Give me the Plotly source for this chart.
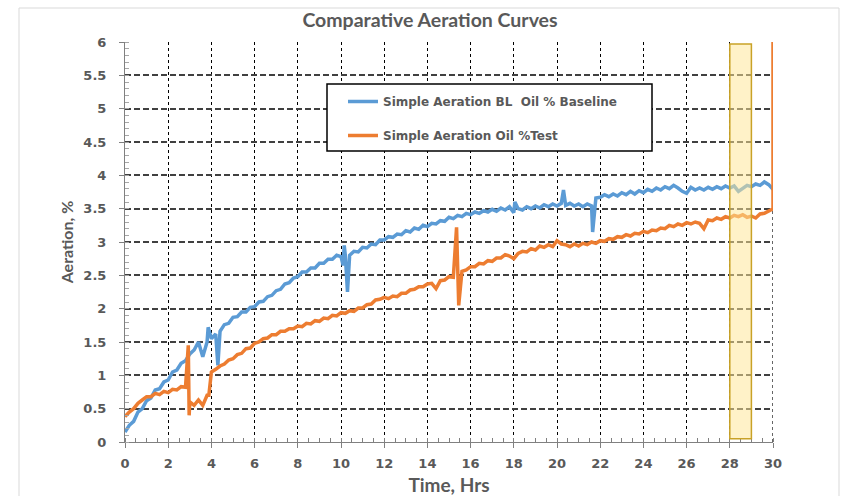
import plotly.graph_objects as go

# ---------------- data ----------------
# readings every 0.2 h (hand-read, including the visible scatter of the trace)
sample_times = [round(i * 0.2, 1) for i in range(151)]

baseline_v = [0.15, 0.25, 0.31, 0.45, 0.50, 0.62, 0.66, 0.78, 0.80, 0.90,
              0.93, 1.05, 1.08, 1.18, 1.22, 1.32, 1.38, 1.50, 1.28, 1.50,
              1.55, 1.62, 1.66, 1.76, 1.78, 1.87, 1.88, 1.95, 1.95, 2.02,
              2.03, 2.10, 2.11, 2.18, 2.20, 2.27, 2.29, 2.37, 2.39, 2.46,
              2.48, 2.55, 2.55, 2.61, 2.61, 2.68, 2.68, 2.74, 2.74, 2.80,
              2.78, 2.80, 2.80, 2.86, 2.85, 2.92, 2.91, 2.97, 2.96, 3.03,
              3.03, 3.08, 3.07, 3.12, 3.11, 3.17, 3.15, 3.21, 3.19, 3.25,
              3.23, 3.28, 3.27, 3.32, 3.31, 3.37, 3.35, 3.40, 3.38, 3.43,
              3.41, 3.45, 3.43, 3.47, 3.45, 3.49, 3.46, 3.51, 3.48, 3.53,
              3.44, 3.50, 3.48, 3.53, 3.50, 3.54, 3.51, 3.56, 3.53, 3.57,
              3.54, 3.58, 3.55, 3.58, 3.54, 3.57, 3.53, 3.57, 3.54, 3.66,
              3.67, 3.71, 3.68, 3.72, 3.69, 3.74, 3.71, 3.76, 3.72, 3.77,
              3.74, 3.79, 3.76, 3.81, 3.78, 3.83, 3.80, 3.85, 3.81, 3.76,
              3.73, 3.82, 3.78, 3.81, 3.78, 3.82, 3.79, 3.83, 3.80, 3.84,
              3.81, 3.84, 3.76, 3.80, 3.85, 3.83, 3.87, 3.85, 3.90, 3.86,
              3.79]
baseline_spike_t = [3.85, 4.3, 10.1, 10.15, 10.3, 18.05, 20.3, 21.65]
baseline_spike_v = [1.72, 1.15, 2.65, 2.95, 2.25, 3.60, 3.78, 3.15]

test_v = [0.38, 0.45, 0.50, 0.58, 0.63, 0.68, 0.68, 0.73, 0.71, 0.76,
          0.74, 0.79, 0.78, 0.83, 0.82, 0.60, 0.55, 0.63, 0.55, 0.70,
          1.05, 1.09, 1.14, 1.17, 1.23, 1.25, 1.31, 1.33, 1.40, 1.41,
          1.48, 1.50, 1.55, 1.56, 1.61, 1.61, 1.66, 1.66, 1.70, 1.70,
          1.74, 1.73, 1.78, 1.77, 1.82, 1.81, 1.86, 1.85, 1.90, 1.89,
          1.94, 1.93, 1.97, 1.96, 2.01, 2.01, 2.06, 2.07, 2.13, 2.14,
          2.17, 2.15, 2.19, 2.18, 2.23, 2.23, 2.28, 2.29, 2.33, 2.33,
          2.37, 2.38, 2.30, 2.42, 2.43, 2.48, 2.47, 2.50, 2.56, 2.58,
          2.63, 2.63, 2.68, 2.67, 2.72, 2.71, 2.76, 2.76, 2.81, 2.79,
          2.75, 2.83, 2.86, 2.85, 2.90, 2.88, 2.94, 2.92, 2.96, 2.93,
          3.02, 2.97, 2.96, 2.93, 2.97, 2.94, 2.98, 2.96, 3.00, 2.98,
          3.02, 3.01, 3.05, 3.04, 3.08, 3.07, 3.11, 3.09, 3.13, 3.12,
          3.16, 3.14, 3.18, 3.17, 3.21, 3.20, 3.25, 3.23, 3.27, 3.25,
          3.29, 3.27, 3.30, 3.28, 3.20, 3.33, 3.32, 3.36, 3.34, 3.38,
          3.36, 3.40, 3.38, 3.41, 3.37, 3.39, 3.36, 3.42, 3.43, 3.47,
          3.50]
test_spike_t = [2.93, 2.97, 3.88, 15.35, 15.45, 30.0]
test_spike_v = [1.45, 0.40, 0.70, 3.22, 2.05, 6.00]

series_names = ["Simple Aeration BL  Oil % Baseline", "Simple Aeration Oil %Test"]
series_colors = ["#5B9BD5", "#ED7D31"]

x_ticks = list(range(0, 31, 2))
y_ticks = [0, 0.5, 1, 1.5, 2, 2.5, 3, 3.5, 4, 4.5, 5, 5.5, 6]
y_tick_text = ["0", "0.5", "1", "1.5", "2", "2.5", "3", "3.5", "4", "4.5", "5", "5.5", "6"]

highlight_x = [28, 29]
highlight_y = [0.05, 5.97]


def merge(ts, vs, st, sv):
    pts = list(zip(ts, vs)) + list(zip(st, sv))
    pts.sort(key=lambda p: p[0])  # stable: regular reading before spike at same time
    return [p[0] for p in pts], [p[1] for p in pts]


# ---------------- figure ----------------
W, H = 842, 496
L, R, T, B = 125, 69, 42, 54
pw, ph = W - L - R, H - T - B


def px_x(p):
    return (p - L) / pw


def px_y(p):
    return (H - B - p) / ph


TXT = "#595959"
TICKFONT = dict(family="DejaVu Sans, Verdana, sans-serif", size=13, color=TXT, weight="bold")

fig = go.Figure()
for i, (vv, st, sv) in enumerate([(baseline_v, baseline_spike_t, baseline_spike_v),
                                  (test_v, test_spike_t, test_spike_v)]):
    xx, yy = merge(sample_times, vv, st, sv)
    fig.add_trace(go.Scatter(
        x=xx, y=yy, mode="lines", name=series_names[i],
        line=dict(color=series_colors[i], width=3.5),
        legendgroup=f"g{i}",
    ))

shapes = [
    # outer chart border
    dict(type="rect", xref="paper", yref="paper", x0=px_x(19), x1=px_x(839),
         y0=px_y(520), y1=px_y(8), line=dict(color="#D9D9D9", width=1),
         fillcolor="rgba(0,0,0,0)", layer="below"),
    # right-hand dashed gridline at x = 30
    dict(type="line", xref="x", yref="y", x0=30, x1=30, y0=0, y1=6,
         line=dict(color="#000000", width=1.2, dash="3px,3px"), layer="below"),
    # legend box
    dict(type="rect", xref="paper", yref="paper", x0=px_x(327), x1=px_x(652),
         y0=px_y(151), y1=px_y(84), line=dict(color="#000000", width=1.5),
         fillcolor="#FFFFFF", layer="above"),
    # highlight band
    dict(type="rect", xref="x", yref="y", x0=highlight_x[0], x1=highlight_x[1],
         y0=highlight_y[0], y1=highlight_y[1],
         line=dict(color="#C9A227", width=1.5),
         fillcolor="rgba(255,230,150,0.52)", layer="above"),
]

fig.update_layout(
    width=W, height=H,
    margin=dict(l=L, r=R, t=T, b=B),
    paper_bgcolor="white", plot_bgcolor="white",
    title=dict(text="<b>Comparative Aeration Curves</b>", xref="paper", x=(430 - L) / pw,
               xanchor="center", yref="container", y=1 - 20 / H, yanchor="middle",
               font=dict(family="Lato, sans-serif", size=19.5, color=TXT)),
    shapes=shapes,
    showlegend=True,
    legend=dict(x=px_x(343), xanchor="left", y=px_y(87), yanchor="top",
                bgcolor="rgba(0,0,0,0)", borderwidth=0, tracegroupgap=15,
                font=dict(family="DejaVu Sans, Verdana, sans-serif", size=12,
                          color=TXT, weight="bold"),
                itemwidth=30),
    xaxis=dict(range=[0, 30], tickvals=x_ticks, ticktext=[str(v) for v in x_ticks],
               showgrid=True, gridcolor="#000000", griddash="3px,3px", gridwidth=1.2,
               zeroline=False, showline=True, linecolor="#808080", linewidth=1,
               ticks="outside", ticklen=5, tickcolor="#808080", tickfont=TICKFONT,
               ticklabelstandoff=4,
               minor=dict(dtick=0.5, ticks="inside", ticklen=4, tickcolor="#808080",
                          showgrid=False),
               title=dict(text="<b>Time, Hrs</b>", standoff=10,
                          font=dict(family="Lato, sans-serif", size=19, color=TXT)),
               automargin=False, fixedrange=True),
    yaxis=dict(range=[0, 6], tickvals=y_ticks, ticktext=y_tick_text,
               showgrid=True, gridcolor="#404040", griddash="6px,3px", gridwidth=1.5,
               zeroline=False, showline=True, linecolor="#808080", linewidth=1,
               ticks="outside", ticklen=5, tickcolor="#808080", tickfont=TICKFONT,
               ticklabelstandoff=10,
               minor=dict(dtick=0.1, ticks="inside", ticklen=4, tickcolor="#A6A6A6",
                          showgrid=False),
               title=dict(text="<b>Aeration, %</b>", standoff=5,
                          font=dict(family="Lato, sans-serif", size=16, color=TXT)),
               automargin=False, fixedrange=True),
)

fig.write_html("out.html")
